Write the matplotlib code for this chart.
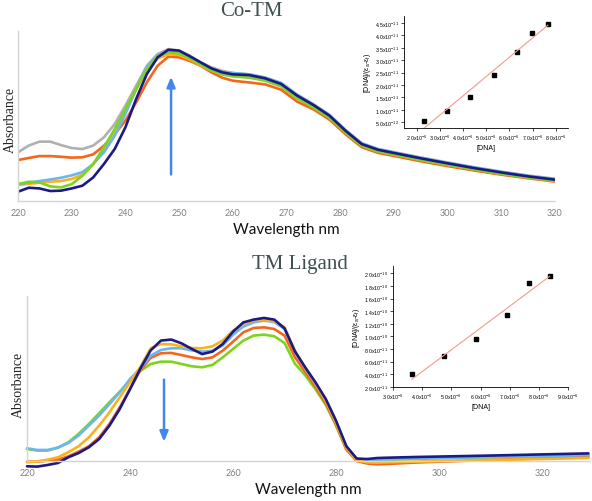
import numpy as np
import matplotlib
matplotlib.use("Agg")
import matplotlib.pyplot as plt

plt.rcParams["mathtext.default"] = "regular"

# ---- Co-TM spectra ----
wl_top = [220, 222, 224, 226, 228, 230, 232, 234, 236, 238, 240, 242, 244, 246, 248, 250,
          252, 254, 256, 258, 260, 263, 266, 269, 272, 275, 278, 281, 284, 287, 290, 295,
          300, 305, 310, 315, 320]
top_gray = [0.295, 0.334, 0.357, 0.357, 0.337, 0.320, 0.314, 0.334, 0.382, 0.459, 0.566, 0.682,
            0.798, 0.866, 0.895, 0.886, 0.857, 0.818, 0.789, 0.769, 0.756, 0.748, 0.730, 0.698,
            0.630, 0.575, 0.513, 0.425, 0.348, 0.315, 0.296, 0.265, 0.236, 0.208, 0.183, 0.160, 0.141]
top_orange = [0.250, 0.262, 0.273, 0.273, 0.269, 0.264, 0.266, 0.283, 0.333, 0.401, 0.479, 0.585,
              0.702, 0.798, 0.851, 0.847, 0.826, 0.798, 0.760, 0.729, 0.711, 0.701, 0.690, 0.659,
              0.589, 0.545, 0.485, 0.400, 0.325, 0.292, 0.274, 0.243, 0.215, 0.189, 0.165, 0.144, 0.125]
top_yellow = [0.105, 0.112, 0.118, 0.124, 0.128, 0.140, 0.165, 0.225, 0.310, 0.410, 0.530, 0.660,
              0.770, 0.840, 0.865, 0.860, 0.835, 0.800, 0.770, 0.750, 0.740, 0.733, 0.715, 0.682,
              0.612, 0.560, 0.497, 0.410, 0.334, 0.301, 0.282, 0.251, 0.222, 0.196, 0.171, 0.149, 0.130]
top_lightblue = [0.110, 0.118, 0.128, 0.137, 0.147, 0.161, 0.180, 0.227, 0.295, 0.391, 0.517, 0.663,
                 0.789, 0.860, 0.882, 0.872, 0.846, 0.808, 0.779, 0.763, 0.756, 0.748, 0.729, 0.698,
                 0.628, 0.573, 0.511, 0.423, 0.346, 0.313, 0.294, 0.263, 0.234, 0.206, 0.181, 0.158, 0.139]
top_green = [0.110, 0.124, 0.120, 0.097, 0.091, 0.110, 0.159, 0.227, 0.324, 0.430, 0.546, 0.663,
             0.779, 0.853, 0.876, 0.870, 0.841, 0.806, 0.771, 0.748, 0.736, 0.729, 0.711, 0.678,
             0.608, 0.556, 0.495, 0.410, 0.334, 0.300, 0.282, 0.251, 0.222, 0.195, 0.170, 0.148, 0.130]
top_navy = [0.066, 0.089, 0.085, 0.070, 0.072, 0.085, 0.101, 0.149, 0.227, 0.314, 0.440, 0.605,
            0.750, 0.847, 0.891, 0.886, 0.853, 0.818, 0.783, 0.760, 0.748, 0.744, 0.725, 0.692,
            0.624, 0.570, 0.508, 0.420, 0.343, 0.310, 0.291, 0.260, 0.231, 0.203, 0.178, 0.155, 0.136]

# ---- TM Ligand spectra ----
wl_bot = [220, 222, 224, 226, 228, 230, 232, 234, 236, 238, 240, 242, 244, 246, 248, 250, 252,
          254, 256, 258, 260, 262, 264, 266, 268, 270, 272, 274, 276, 278, 280, 282, 284, 286,
          288, 290, 295, 300, 310, 320, 329]
bot_green = [0.073, 0.063, 0.063, 0.081, 0.113, 0.164, 0.224, 0.289, 0.356, 0.420, 0.487, 0.545,
             0.588, 0.602, 0.602, 0.588, 0.574, 0.568, 0.582, 0.628, 0.679, 0.730, 0.760, 0.766,
             0.756, 0.715, 0.590, 0.520, 0.435, 0.340, 0.215, 0.070, 0.005, 0.004, 0.006, 0.008,
             0.012, 0.016, 0.022, 0.028, 0.034]
bot_orange = [-0.004, -0.004, 0.002, 0.008, 0.028, 0.057, 0.089, 0.143, 0.224, 0.325, 0.436, 0.550,
              0.625, 0.653, 0.655, 0.642, 0.628, 0.618, 0.628, 0.669, 0.723, 0.780, 0.806, 0.810,
              0.800, 0.760, 0.630, 0.540, 0.450, 0.350, 0.220, 0.070, 0.000, -0.015, -0.020, -0.018,
              -0.010, -0.004, 0.006, 0.016, 0.024]
bot_lightblue = [0.077, 0.067, 0.067, 0.081, 0.109, 0.154, 0.214, 0.275, 0.345, 0.416, 0.497, 0.560,
                 0.638, 0.673, 0.683, 0.683, 0.670, 0.663, 0.668, 0.700, 0.765, 0.815, 0.840, 0.851,
                 0.842, 0.800, 0.665, 0.560, 0.468, 0.365, 0.235, 0.085, 0.012, 0.006, 0.008, 0.010,
                 0.014, 0.018, 0.024, 0.030, 0.036]
bot_yellow = [-0.008, -0.002, 0.008, 0.022, 0.053, 0.089, 0.143, 0.214, 0.295, 0.386, 0.477, 0.570,
              0.683, 0.709, 0.707, 0.695, 0.685, 0.683, 0.695, 0.730, 0.790, 0.830, 0.851, 0.857,
              0.847, 0.810, 0.670, 0.565, 0.470, 0.365, 0.230, 0.080, 0.005, -0.008, -0.010, -0.008,
              -0.004, 0.000, 0.006, 0.012, 0.018]
bot_navy = [-0.032, -0.034, -0.024, -0.012, 0.022, 0.048, 0.083, 0.133, 0.214, 0.315, 0.436, 0.560,
            0.670, 0.730, 0.736, 0.713, 0.679, 0.648, 0.663, 0.709, 0.784, 0.840, 0.857, 0.867,
            0.857, 0.804, 0.665, 0.568, 0.477, 0.376, 0.244, 0.090, 0.015, 0.012, 0.018, 0.020,
            0.024, 0.027, 0.033, 0.040, 0.046]

# ---- binding plots (insets) ----
co_dna = [2.30e-6, 3.29e-6, 4.30e-6, 5.31e-6, 6.31e-6, 6.97e-6, 7.66e-6]
co_ratio = [5.6e-12, 9.4e-12, 1.51e-11, 2.40e-11, 3.35e-11, 4.09e-11, 4.46e-11]
lig_dna = [3.65e-6, 4.74e-6, 5.83e-6, 6.92e-6, 7.65e-6, 8.37e-6]
lig_ratio = [4.06e-11, 6.86e-11, 9.6e-11, 1.34e-10, 1.85e-10, 1.96e-10]

co_xticks = [2e-6, 3e-6, 4e-6, 5e-6, 6e-6, 7e-6, 8e-6]
co_yticks = [5e-12, 1e-11, 1.5e-11, 2e-11, 2.5e-11, 3e-11, 3.5e-11, 4e-11, 4.5e-11]
lig_xticks = [3e-6, 4e-6, 5e-6, 6e-6, 7e-6, 8e-6, 9e-6]
lig_yticks = [2e-11, 4e-11, 6e-11, 8e-11, 1e-10, 1.2e-10, 1.4e-10, 1.6e-10, 1.8e-10, 2e-10]

colors = {"gray": "#b0b0b0", "orange": "#f4661b", "yellow": "#fbb21a",
          "lightblue": "#6cb6f0", "green": "#7ed321", "navy": "#1b1a86"}
arrow_c = "#4585ee"
title_c = "#3f5050"

W, H = 592, 502
fig = plt.figure(figsize=(W / 100, H / 100), dpi=100)


def box(l, r, t, b):
    return [l / W, 1 - b / H, (r - l) / W, (b - t) / H]


def sci(v):
    e = int(np.floor(np.log10(v) + 1e-9))
    m = v / 10 ** e
    return r"%.1fx10$^{%d}$" % (m, e)


def main_axes(ax, xlim, ylim, xticks):
    ax.set_xlim(*xlim)
    ax.set_ylim(*ylim)
    for s in ["top", "right"]:
        ax.spines[s].set_visible(False)
    for s in ["left", "bottom"]:
        ax.spines[s].set_color("#d4d4d4")
        ax.spines[s].set_linewidth(1.0)
    ax.set_yticks([])
    ax.set_xticks(xticks)
    ax.tick_params(axis="x", length=0, pad=5, labelsize=6.5, labelcolor="#808080")
    for lab in ax.get_xticklabels():
        lab.set_family("Lato")
    ax.set_xlabel("Wavelength nm", family="Lato", fontsize=11, labelpad=4, color="#111111")


def inset_axes(ax, x, y, xlim, ylim, xticks, yticks):
    ax.plot(x, y, "s", color="black", ms=2.2)
    k, c = np.polyfit(x, y, 1)
    xx = np.array([x[0], x[-1]])
    ax.plot(xx, k * xx + c, color="#f39a8c", lw=0.8)
    ax.set_xlim(*xlim)
    ax.set_ylim(*ylim)
    ax.set_xticks(xticks)
    ax.set_xticklabels([sci(v) for v in xticks], family="Liberation Sans")
    ax.set_yticks(yticks)
    ax.set_yticklabels([sci(v) for v in yticks], family="Liberation Sans")
    for s in ["top", "right"]:
        ax.spines[s].set_visible(False)
    for s in ["left", "bottom"]:
        ax.spines[s].set_linewidth(0.6)
    ax.tick_params(direction="out", length=2, width=0.5, labelsize=3.8, pad=1.5)
    ax.set_xlabel("[DNA]", family="Liberation Sans", fontsize=5, labelpad=1.5)
    ax.set_ylabel(r"[DNA]/($\epsilon_a$-$\epsilon_f$)", family="Liberation Sans",
                  fontsize=5, labelpad=1.5)
    ax.patch.set_alpha(0)


# top spectra
ax1 = fig.add_axes(box(18, 555, 32, 202))
for name, ys in [("gray", top_gray), ("orange", top_orange), ("yellow", top_yellow),
                 ("lightblue", top_lightblue), ("green", top_green), ("navy", top_navy)]:
    ax1.plot(wl_top, ys, color=colors[name], lw=1.9, solid_capstyle="round")
main_axes(ax1, (220, 320), (0.012, 1.0), range(220, 321, 10))
ax1.annotate("", xy=(248.5, 0.75), xytext=(248.5, 0.15),
             arrowprops=dict(arrowstyle="-|>,head_width=0.25,head_length=0.6",
                             color=arrow_c, lw=1.8))

# bottom spectra
ax2 = fig.add_axes(box(27, 590, 297, 462))
for name, ys in [("green", bot_green), ("orange", bot_orange), ("lightblue", bot_lightblue),
                 ("yellow", bot_yellow), ("navy", bot_navy)]:
    ax2.plot(wl_bot, ys, color=colors[name], lw=1.9, solid_capstyle="round", clip_on=False)
main_axes(ax2, (220, 329.3), (0, 1.0), range(220, 321, 20))
ax2.annotate("", xy=(246.6, 0.10), xytext=(246.6, 0.51),
             arrowprops=dict(arrowstyle="-|>,head_width=0.25,head_length=0.6",
                             color=arrow_c, lw=1.8))

# titles and y labels
fig.text(251 / W, 1 - 12 / H, "Co-TM", family="Liberation Serif", fontsize=15,
         color=title_c, ha="center", va="center")
fig.text(300 / W, 1 - 265 / H, "TM Ligand", family="Liberation Serif", fontsize=15,
         color=title_c, ha="center", va="center")
fig.text(10.5 / W, 1 - 120 / H, "Absorbance", family="Liberation Serif", fontsize=10,
         color="#222222", rotation=90, ha="center", va="center")
fig.text(18 / W, 1 - 385 / H, "Absorbance", family="Liberation Serif", fontsize=10,
         color="#222222", rotation=90, ha="center", va="center")

# insets
ins1 = fig.add_axes(box(404, 568, 17, 129))
inset_axes(ins1, co_dna, co_ratio, (1.44e-6, 8.53e-6), (2.7e-12, 4.78e-11), co_xticks, co_yticks)
ins2 = fig.add_axes(box(393, 568, 267, 388))
inset_axes(ins2, lig_dna, lig_ratio, (3.0e-6, 9.0e-6), (2.0e-11, 2.115e-10), lig_xticks, lig_yticks)

fig.savefig("out.png", dpi=100)
